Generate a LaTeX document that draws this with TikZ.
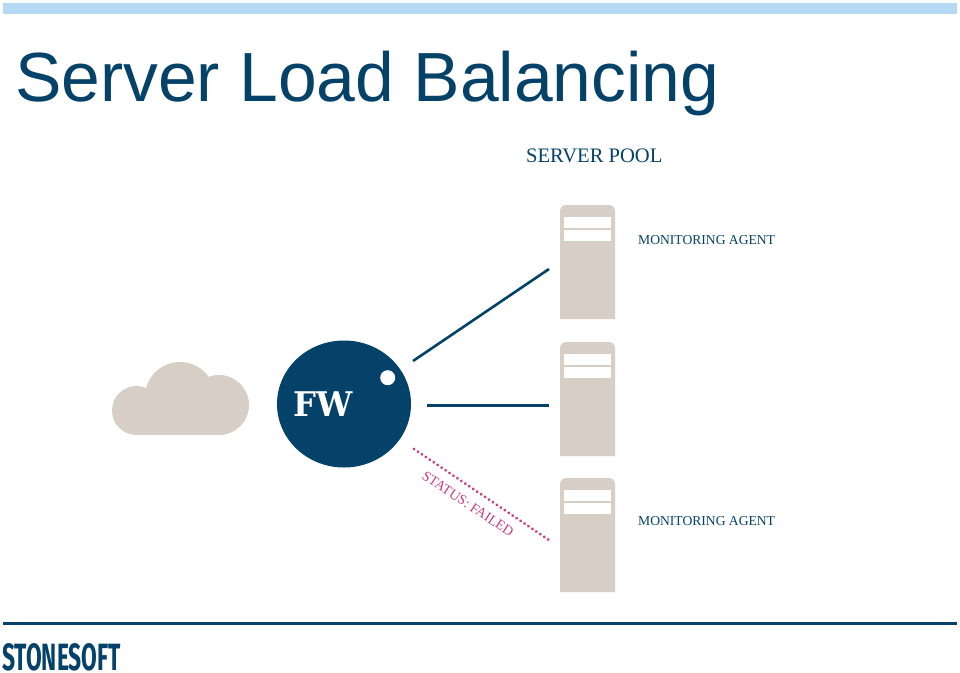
\documentclass[tikz,border=0pt]{standalone}
\usepackage{fontspec}
\usetikzlibrary{shapes.geometric}
\setmainfont{Liberation Serif}
\newfontfamily\titlefont{Liberation Sans}
\newfontfamily\fwfont{DejaVu Serif}
\newfontfamily\logofont{Fira Sans}
\definecolor{navy}{HTML}{04426A}
\definecolor{sand}{HTML}{D7CFC6}
\definecolor{barblue}{HTML}{B5D9F5}
\definecolor{failpink}{HTML}{C63E85}
\tikzset{
  serverbox/.style={fill=sand,draw=none},
  slot/.style={fill=white,draw=none},
  link/.style={draw=navy,line width=2.6pt},
  faillink/.style={draw=failpink,line width=3.2pt,line cap=round,dash pattern=on 0.01pt off 4.75pt},
  agent/.style={anchor=base west,inner sep=0pt,text=navy,font=\fontsize{13.6}{15}\selectfont},
}
\newcommand{\serverat}[2]{%
  \fill[serverbox] (560,#1+114) [rounded corners=6pt] -- (560,#1) -- (615,#1) [sharp corners] -- (615,#1+114) -- cycle;
  \fill[slot] (564,#1+12) rectangle (611,#1+23);
  \fill[slot] (564,#1+25) rectangle (611,#1+36);
  \coordinate (#2) at (560,#1+57);
}
\begin{document}
\begin{tikzpicture}[x=1pt,y=-1pt]
\useasboundingbox (0,0) rectangle (960,672);
\fill[white] (0,0) rectangle (960,672);
\fill[barblue] (3,3) rectangle (957,14);
\node[anchor=base west,inner sep=0pt,text=navy,font=\titlefont\fontsize{69.6}{80}\selectfont] (title) at (15,101) {Server Load Balancing};
\node[anchor=base west,inner sep=0pt,text=navy,font=\fontsize{20.6}{24}\selectfont] (pool) at (526,162) {SERVER POOL};
\serverat{205}{srvA}
\serverat{342}{srvB}
\serverat{478}{srvC}
\node[agent] (agentA) at (638,244) {MONITORING AGENT};
\node[agent] (agentC) at (638,525) {MONITORING AGENT};
% cloud
\fill[sand] (136.5,410.5) circle (24.5);
\fill[sand] (180,397) circle (35);
\fill[sand] (219,405) circle (30);
\fill[sand] (136.5,400) rectangle (222,435);
% firewall
\node[ellipse,fill=navy,draw=none,minimum width=134pt,minimum height=127pt,inner sep=0pt] (fw) at (344,404) {};
\fill[white] (387.7,377.7) circle (7.5);
\node[anchor=base west,inner sep=0pt,text=white,xscale=0.95,font=\fwfont\bfseries\fontsize{34}{36}\selectfont] (fwlabel) at (293,416) {FW};
% connectors
\coordinate (a0) at (413,361); \coordinate (a1) at (549,269);
\coordinate (b0) at (427,405.5); \coordinate (b1) at (549,405.5);
\coordinate (c0) at (414,449); \coordinate (c1) at (549,540);
\draw[link] (a0) -- (a1);
\draw[link] (b0) -- (b1);
\draw[faillink] (c0) -- (c1);
\node[rotate=-33.5,inner sep=0pt,text=failpink,font=\fontsize{14}{15}\selectfont] (status) at (468,504) {STATUS: FAILED};
% footer
\fill[navy] (3,621.5) rectangle (957,624.5);
\node[anchor=base west,inner sep=0pt,text=navy,xscale=0.6,font=\logofont\bfseries\fontsize{38}{40}\selectfont] (logo) at (2,670) {STONESOFT};
\end{tikzpicture}
\end{document}
